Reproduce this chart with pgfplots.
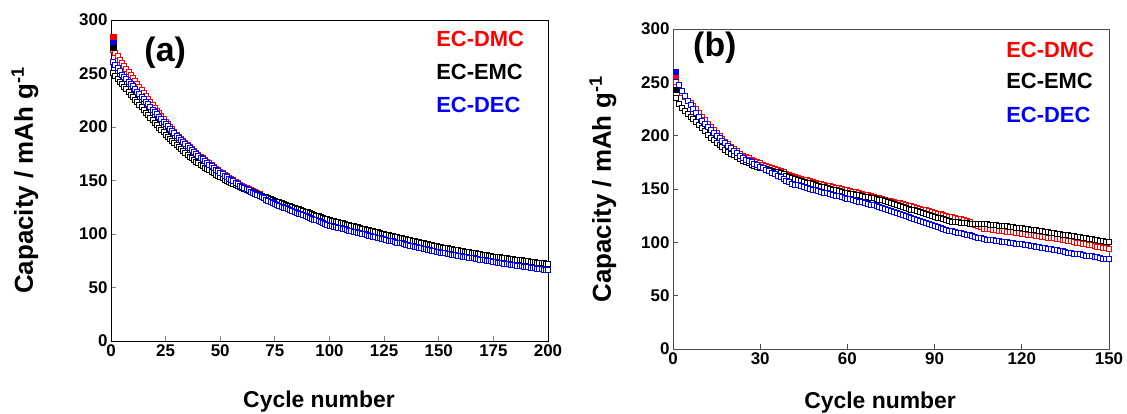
\documentclass[border=0pt]{standalone}
\usepackage{fontspec}
\setmainfont{Liberation Sans}
\usepackage{pgfplots}
\usepackage{pgfplotstable}
\pgfplotsset{compat=1.18}

\pgfplotstableread{
c dmc emc dec
1 284 274 279
}\firstA
\pgfplotstableread{
c dmc emc dec
1 256 243 260
}\firstB

\pgfplotstableread{
c dmc emc dec
1 272 251 261
2 269 248 258
3 266 245 255
4 263 242.5 252
5 260 240 249
6 257.2 237.6 246.8
7 254.4 235.2 244.6
8 251.6 232.8 242.4
9 248.8 230.4 240.2
10 246 228 238
11 243.2 225.6 235.6
12 240.4 223.2 233.2
13 237.6 220.8 230.8
14 234.8 218.4 228.4
15 232 216 226
16 229.2 213.6 223.6
17 226.4 211.2 221.2
18 223.6 208.8 218.8
19 220.8 206.4 216.4
20 218 204 214
21 215.4 201.8 211.8
22 212.8 199.6 209.6
23 210.2 197.4 207.4
24 207.6 195.2 205.2
25 205 193 203
26 202.6 191 200.8
27 200.2 189 198.6
28 197.8 187 196.4
29 195.4 185 194.2
30 193 183 192
31 191 181.2 190
32 189 179.4 188
33 187 177.6 186
34 185 175.8 184
35 183 174 182
36 181.2 172.4 180.2
37 179.4 170.8 178.4
38 177.6 169.2 176.6
39 175.8 167.6 174.8
40 174 166 173
41 172.4 164.7 171.4
42 170.8 163.4 169.8
43 169.2 162.1 168.2
44 167.6 160.8 166.6
45 166 159.5 165
46 164.4 158.2 163.4
47 162.8 156.9 161.8
48 161.2 155.6 160.2
49 159.6 154.3 158.6
50 158 153 157
51 156.7 152 155.7
52 155.4 151 154.4
53 154.1 150 153.1
54 152.8 149 151.8
55 151.5 148 150.5
56 150.2 147 149.2
57 148.9 146 147.9
58 147.6 145 146.6
59 146.3 144 145.3
60 145 143 144
61 144 142.2 142.9
62 143 141.4 141.9
63 142 140.6 140.8
64 141 139.8 139.7
65 140 139 138.7
66 139 138.2 137.6
67 138 137.4 136.5
68 137 136.6 135.5
69 136 135.8 134.4
70 135 135 133.3
71 134 134.2 132.3
72 133 133.4 131.2
73 132 132.6 130.1
74 131 131.8 129.1
75 130 131 128
76 129.2 130.3 127.2
77 128.5 129.6 126.4
78 127.7 128.8 125.6
79 127 128.1 124.8
80 126.2 127.4 124
81 125.4 126.7 123.2
82 124.7 126 122.4
83 123.9 125.2 121.6
84 123.2 124.5 120.8
85 122.4 123.8 120
86 121.6 123.1 119.2
87 120.9 122.4 118.4
88 120.1 121.6 117.6
89 119.4 120.9 116.8
90 118.6 120.2 116
91 117.8 119.5 115.2
92 117.1 118.8 114.4
93 116.3 118 113.6
94 115.6 117.3 112.8
95 114.8 116.6 112
96 114 115.9 111.2
97 113.3 115.2 110.4
98 112.5 114.4 109.6
99 111.8 113.7 108.8
100 111 113 108
101 110.5 112.5 107.5
102 110 112 107
103 109.4 111.4 106.4
104 108.9 110.9 105.9
105 108.4 110.4 105.4
106 107.9 109.9 104.9
107 107.4 109.4 104.4
108 106.8 108.8 103.8
109 106.3 108.3 103.3
110 105.8 107.8 102.8
111 105.3 107.3 102.3
112 104.8 106.8 101.8
113 104.2 106.2 101.2
114 103.7 105.7 100.7
115 103.2 105.2 100.2
116 102.7 104.7 99.7
117 102.2 104.2 99.2
118 101.6 103.6 98.6
119 101.1 103.1 98.1
120 100.6 102.6 97.6
121 100.1 102.1 97.1
122 99.6 101.6 96.6
123 99 101 96
124 98.5 100.5 95.5
125 98 100 95
126 97.6 99.5 94.5
127 97.1 99 94
128 96.7 98.6 93.6
129 96.2 98.1 93.1
130 95.8 97.6 92.6
131 95.4 97.1 92.1
132 94.9 96.6 91.6
133 94.5 96.2 91.2
134 94 95.7 90.7
135 93.6 95.2 90.2
136 93.2 94.7 89.7
137 92.7 94.2 89.2
138 92.3 93.8 88.8
139 91.8 93.3 88.3
140 91.4 92.8 87.8
141 91 92.3 87.3
142 90.5 91.8 86.8
143 90.1 91.4 86.4
144 89.6 90.9 85.9
145 89.2 90.4 85.4
146 88.8 89.9 84.9
147 88.3 89.4 84.4
148 87.9 89 84
149 87.4 88.5 83.5
150 87 88 83
151 86.6 87.6 82.6
152 86.3 87.3 82.3
153 85.9 86.9 81.9
154 85.6 86.6 81.6
155 85.2 86.2 81.2
156 84.8 85.8 80.8
157 84.5 85.5 80.5
158 84.1 85.1 80.1
159 83.8 84.8 79.8
160 83.4 84.4 79.4
161 83 84 79
162 82.7 83.7 78.7
163 82.3 83.3 78.3
164 82 83 78
165 81.6 82.6 77.6
166 81.2 82.2 77.2
167 80.9 81.9 76.9
168 80.5 81.5 76.5
169 80.2 81.2 76.2
170 79.8 80.8 75.8
171 79.4 80.4 75.4
172 79.1 80.1 75.1
173 78.7 79.7 74.7
174 78.4 79.4 74.4
175 78 79 74
176 77.7 78.7 73.7
177 77.4 78.4 73.4
178 77 78.2 73
179 76.7 77.9 72.7
180 76.4 77.6 72.4
181 76.1 77.3 72.1
182 75.8 77 71.8
183 75.4 76.8 71.4
184 75.1 76.5 71.1
185 74.8 76.2 70.8
186 74.5 75.9 70.5
187 74.2 75.6 70.2
188 73.8 75.4 69.8
189 73.5 75.1 69.5
190 73.2 74.8 69.2
191 72.9 74.5 68.9
192 72.6 74.2 68.6
193 72.2 74 68.2
194 71.9 73.7 67.9
195 71.6 73.4 67.6
196 71.3 73.1 67.3
197 71 72.8 67
198 70.6 72.6 66.6
199 70.3 72.3 66.3
200 70 72 66
}\dataA

\pgfplotstableread{
c dmc emc dec
1 250 235 255
2 245 230 248
3 240 226 242
4 236.5 223 237.5
5 233 220 233
6 230.5 218 229
7 228 216 225
8 224.7 213 221.3
9 221.3 210 217.7
10 218 207 214
11 214.7 204 211
12 211.3 201 208
13 208 198 205
14 205.2 195.8 202.6
15 202.4 193.6 200.2
16 199.6 191.4 197.8
17 196.8 189.2 195.4
18 194 187 193
19 191.8 185.2 190.7
20 189.7 183.3 188.3
21 187.5 181.5 186
22 185.3 179.7 183.7
23 183.2 177.8 181.3
24 181 176 179
25 179.8 175 177.7
26 178.7 174 176.3
27 177.5 173 175
28 176.3 172 173.7
29 175.2 171 172.3
30 174 170 171
31 173 169.3 169.6
32 172 168.6 168.1
33 171 167.9 166.7
34 170 167.1 165.3
35 169 166.4 163.9
36 168 165.7 162.4
37 167 165 161
38 165.8 163.8 159.5
39 164.5 162.5 158
40 163.3 161.3 156.5
41 162 160 155
42 161.2 159.2 154.2
43 160.4 158.4 153.4
44 159.7 157.7 152.7
45 158.9 156.9 151.9
46 158.1 156.1 151.1
47 157.3 155.3 150.3
48 156.6 154.6 149.6
49 155.8 153.8 148.8
50 155 153 148
51 154.4 152.3 147.3
52 153.8 151.6 146.6
53 153.2 150.9 145.9
54 152.6 150.2 145.2
55 152 149.5 144.5
56 151.4 148.8 143.8
57 150.8 148.1 143.1
58 150.2 147.4 142.4
59 149.6 146.7 141.7
60 149 146 141
61 148.3 145.5 140.3
62 147.6 145 139.6
63 146.9 144.5 138.9
64 146.2 144 138.2
65 145.5 143.5 137.5
66 144.8 143 136.8
67 144.1 142.5 136.1
68 143.4 142 135.4
69 142.7 141.5 134.7
70 142 141 134
71 141.3 140.2 133.1
72 140.6 139.3 132.2
73 139.9 138.5 131.2
74 139.2 137.6 130.3
75 138.5 136.8 129.4
76 137.8 135.9 128.5
77 137.2 135.1 127.5
78 136.5 134.2 126.6
79 135.8 133.4 125.7
80 135.1 132.5 124.8
81 134.4 131.7 123.8
82 133.7 130.8 122.9
83 133 130 122
84 132.3 129.2 121.1
85 131.5 128.3 120.2
86 130.8 127.5 119.3
87 130 126.7 118.3
88 129.3 125.8 117.4
89 128.5 125 116.5
90 127.8 124.2 115.6
91 127 123.3 114.7
92 126.3 122.5 113.8
93 125.5 121.7 112.8
94 124.8 120.8 111.9
95 124 120 111
96 123.4 119.6 110.4
97 122.8 119.2 109.8
98 122.2 118.8 109.2
99 121.6 118.4 108.6
100 121 118 108
101 119.9 117.9 107.3
102 118.7 117.7 106.6
103 117.6 117.6 105.9
104 116.4 117.4 105.1
105 115.3 117.3 104.4
106 114.1 117.1 103.7
107 113 117 103
108 112.6 116.8 102.6
109 112.3 116.5 102.3
110 111.9 116.3 101.9
111 111.5 116 101.5
112 111.1 115.8 101.1
113 110.8 115.5 100.8
114 110.4 115.3 100.4
115 110 115 100
116 109.6 114.6 99.6
117 109.3 114.3 99.3
118 108.9 113.9 98.9
119 108.5 113.5 98.5
120 108.1 113.1 98.1
121 107.8 112.8 97.8
122 107.4 112.4 97.4
123 107 112 97
124 106.6 111.6 96.5
125 106.2 111.2 96
126 105.8 110.8 95.5
127 105.3 110.3 95
128 104.9 109.9 94.5
129 104.5 109.5 94
130 104.1 109.1 93.5
131 103.7 108.7 93
132 103.3 108.3 92.5
133 102.8 107.8 92
134 102.4 107.4 91.5
135 102 107 91
136 101.5 106.5 90.5
137 100.9 106.1 90.1
138 100.4 105.6 89.6
139 99.9 105.1 89.1
140 99.3 104.7 88.7
141 98.8 104.2 88.2
142 98.3 103.7 87.7
143 97.7 103.3 87.3
144 97.2 102.8 86.8
145 96.7 102.3 86.3
146 96.1 101.9 85.9
147 95.6 101.4 85.4
148 95.1 100.9 84.9
149 94.5 100.5 84.5
150 94 100 84
}\dataB

\definecolor{cRed}{RGB}{255,0,0}
\definecolor{cBlue}{RGB}{0,0,255}

\pgfplotsset{
  capaxis/.style={
    scale only axis, anchor=south west, clip=false,
    xmin=0, ymin=0, ymax=300,
    ytick={0,50,...,300},
    tick align=inside, xtick pos=left, ytick pos=left,
    major tick length=5bp,
    /pgf/number format/assume math mode=true,
    ticklabel style={font=\fontsize{17}{17}\selectfont\bfseries},
    xlabel style={font=\fontsize{23}{23}\selectfont\bfseries},
    ylabel style={font=\fontsize{26}{26}\selectfont\bfseries},
    axis line style={line width=0.9pt},
    tick style={line width=0.9pt},
    xlabel={Cycle number},
    ylabel={Capacity / mAh g\textsuperscript{-1}},
  },
  openmk/.style={only marks, mark=square*, mark size=2.5bp,
    mark options={fill=white, draw=#1, line width=0.85pt}},
  fullmk/.style={only marks, mark=square*, mark size=2.6bp,
    mark options={fill=#1, draw=#1, line width=0.5pt}},
}

\begin{document}
\begin{tikzpicture}
\useasboundingbox (0bp,0bp) rectangle (1127bp,-414bp);

% ---------------- (a)
\begin{axis}[capaxis,
  at={(111bp,-341bp)}, width=437bp, height=321bp,
  xmax=200, xtick={0,25,...,200},
  xlabel style={at={(axis description cs:0.476,-0.19)}, anchor=center},
  ylabel style={at={(axis description cs:-0.197,0.5)}, anchor=center, rotate=0},
]
\addplot[openmk=cRed] table[x=c, y=dmc] {\dataA};
\addplot[openmk=black] table[x=c, y=emc] {\dataA};
\addplot[openmk=cBlue] table[x=c, y=dec] {\dataA};
\addplot[fullmk=cRed] table[x=c, y=dmc] {\firstA};
\addplot[fullmk=cBlue] table[x=c, y=dec] {\firstA};
\addplot[fullmk=black] table[x=c, y=emc] {\firstA};
\node[font=\fontsize{34}{34}\selectfont\bfseries, anchor=center] at (axis description cs:0.124,0.897) {(a)};
\node[font=\fontsize{22}{22}\selectfont\bfseries, text=cRed, anchor=west, inner sep=0pt] at (axis description cs:0.744,0.941) {EC-DMC};
\node[font=\fontsize{22}{22}\selectfont\bfseries, text=black, anchor=west, inner sep=0pt] at (axis description cs:0.744,0.838) {EC-EMC};
\node[font=\fontsize{22}{22}\selectfont\bfseries, text=cBlue, anchor=west, inner sep=0pt] at (axis description cs:0.744,0.735) {EC-DEC};
\end{axis}

% ---------------- (b)
\begin{axis}[capaxis,
  at={(673bp,-349bp)}, width=436bp, height=320bp,
  xmax=150, xtick={0,30,...,150},
  axis line style={line width=0.9pt, black!70},
  tick style={line width=0.9pt, black!70},
  xlabel style={at={(axis description cs:0.475,-0.166)}, anchor=center},
  ylabel style={at={(axis description cs:-0.161,0.5)}, anchor=center, rotate=0},
]
\addplot[openmk=cRed] table[x=c, y=dmc] {\dataB};
\addplot[openmk=black] table[x=c, y=emc] {\dataB};
\addplot[openmk=cBlue] table[x=c, y=dec] {\dataB};
\addplot[fullmk=cRed] table[x=c, y=dmc] {\firstB};
\addplot[fullmk=black] table[x=c, y=emc] {\firstB};
\addplot[fullmk=cBlue] table[x=c, y=dec] {\firstB};
\node[font=\fontsize{34}{34}\selectfont\bfseries, anchor=center] at (axis description cs:0.096,0.94) {(b)};
\node[font=\fontsize{22}{22}\selectfont\bfseries, text=cRed, anchor=west, inner sep=0pt] at (axis description cs:0.764,0.933) {EC-DMC};
\node[font=\fontsize{22}{22}\selectfont\bfseries, text=black, anchor=west, inner sep=0pt] at (axis description cs:0.764,0.8375) {EC-EMC};
\node[font=\fontsize{22}{22}\selectfont\bfseries, text=cBlue, anchor=west, inner sep=0pt] at (axis description cs:0.764,0.731) {EC-DEC};
\end{axis}
\end{tikzpicture}
\end{document}
